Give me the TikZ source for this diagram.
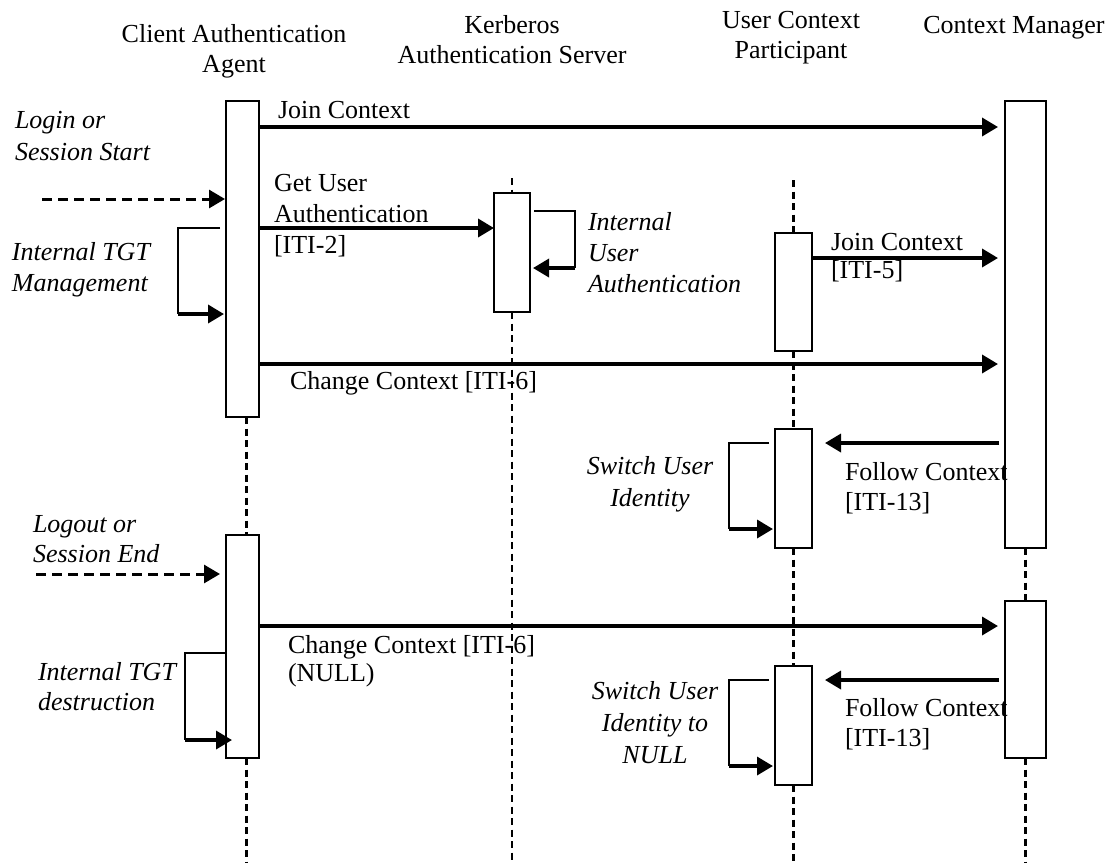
\documentclass[tikz,border=0pt]{standalone}
\usepackage{fontspec}
\setmainfont{Liberation Serif}
\usetikzlibrary{arrows.meta}
\begin{document}
\begin{tikzpicture}[x=1pt,y=-1pt,
  every node/.style={font=\fontsize{26}{30}\selectfont, inner sep=0pt, outer sep=0pt},
  actbox/.style={draw, fill=white, line width=1.8pt, anchor=north west},
  life/.style={line width=2.2pt, dash pattern=on 7pt off 4.5pt},
  msg/.style={line width=3.5pt, -{Triangle[length=16pt,width=18pt]}},
  trig/.style={line width=3pt, dash pattern=on 10pt off 6pt, -{Triangle[length=16pt,width=18pt]}},
  loopline/.style={line width=1.6pt},
  lbl/.style={anchor=base west, align=left},
  ilbl/.style={anchor=base west, align=left, font=\fontsize{26}{30}\selectfont\itshape},
  clbl/.style={anchor=base, align=center, font=\fontsize{26}{32}\selectfont\itshape},
  ttl/.style={anchor=base, align=center}
]
\useasboundingbox (0,0) rectangle (1113,863);

% titles (anchored at the baseline of their last line)
\node[ttl] (tcaa) at (234,72) {Client Authentication\\Agent};
\node[ttl] (tkas) at (512,63) {Kerberos\\Authentication Server};
\node[ttl] (tucp) at (791,58) {User Context\\Participant};
\node[ttl] (tcm) at (1014,33) {Context Manager};

% activation boxes
\path
  node[actbox, minimum width=33pt, minimum height=316pt] (caa1) at (226,101) {}
  node[actbox, minimum width=33pt, minimum height=223pt] (caa2) at (226,535) {}
  node[actbox, minimum width=36pt, minimum height=119pt] (kas1) at (494,193) {}
  node[actbox, minimum width=37pt, minimum height=118pt] (ucp1) at (775,233) {}
  node[actbox, minimum width=37pt, minimum height=119pt] (ucp2) at (775,429) {}
  node[actbox, minimum width=37pt, minimum height=119pt] (ucp3) at (775,666) {}
  node[actbox, minimum width=41pt, minimum height=447pt] (cm1) at (1005,101) {}
  node[actbox, minimum width=41pt, minimum height=157pt] (cm2) at (1005,601) {};

% lifelines
\draw[life] ([xshift=4pt]caa1.south) -- ([xshift=4pt]caa2.north);
\draw[life] ([xshift=4pt]caa2.south) -- ([xshift=4pt]caa2.south |- 0,863);
\draw[life] (kas1.north |- 0,178) -- (kas1.north);
\draw[life] (kas1.south) -- (kas1.south |- 0,863);
\draw[life] (ucp1.north |- 0,180) -- (ucp1.north);
\draw[life] (ucp1.south) -- (ucp2.north);
\draw[life] (ucp2.south) -- (ucp3.north);
\draw[life] (ucp3.south) -- (ucp3.south |- 0,863);
\draw[life] (cm1.south) -- (cm2.north);
\draw[life] (cm2.south) -- (cm2.south |- 0,863);

% messages
\draw[msg, shorten >=7pt] (caa1.east |- 0,127) -- (cm1.west |- 0,127);
\node[lbl] (l1) at (278,118) {Join Context};

\draw[msg] (caa1.east |- 0,228) -- (kas1.west |- 0,228);
\node[lbl, font=\fontsize{26}{31}\selectfont] (l2) at (274,253) {Get User\\Authentication\\{}[ITI-2]};

\draw[msg, shorten >=7pt] (ucp1.east |- 0,258) -- (cm1.west |- 0,258);
\node[lbl, font=\fontsize{26}{28}\selectfont] (l3) at (831,278) {Join Context\\{}[ITI-5]};

\draw[msg, shorten >=7pt] (caa1.east |- 0,364) -- (cm1.west |- 0,364);
\node[lbl] (l4) at (290,389) {Change Context [ITI-6]};

\draw[msg, shorten >=13pt, shorten <=6pt] (cm1.west |- 0,443) -- (ucp2.east |- 0,443);
\node[lbl, font=\fontsize{26}{30}\selectfont] (l5) at (845,510) {Follow Context\\{}[ITI-13]};

\draw[msg, shorten >=7pt] (caa2.east |- 0,626) -- (cm2.west |- 0,626);
\node[lbl, font=\fontsize{26}{28}\selectfont] (l6) at (288,681) {Change Context [ITI-6]\\(NULL)};

\draw[msg, shorten >=13pt, shorten <=6pt] (cm2.west |- 0,680) -- (ucp3.east |- 0,680);
\node[lbl, font=\fontsize{26}{30}\selectfont] (l7) at (845,746) {Follow Context\\{}[ITI-13]};

% external triggers
\coordinate (lgn) at (42,199);
\draw[trig, shorten >=1pt] (lgn) -- (caa1.west |- lgn);
\node[ilbl, font=\fontsize{26}{32}\selectfont\itshape] (t1) at (15,160) {Login or\\Session Start};

\coordinate (lgo) at (36,574);
\draw[trig, shorten >=6pt] (lgo) -- (caa2.west |- lgo);
\node[ilbl] (t2) at (33,562) {Logout or\\Session End};

% self loops
\draw[loopline] (220,228) -- (178,228) -- (178,314);
\draw[msg] (178,314) -- (224,314);
\node[ilbl, font=\fontsize{26}{31}\selectfont\itshape] (s1) at (12,291) {Internal TGT\\Management};

\draw[loopline] (534,211) -- (575,211) -- (575,268);
\draw[msg] (575,268) -- (533,268);
\node[ilbl, font=\fontsize{26}{31}\selectfont\itshape] (s2) at (588,292) {Internal\\User\\Authentication};

\draw[loopline] (227,653) -- (185,653) -- (185,740);
\draw[msg] (185,740) -- (232,740);
\node[ilbl] (s3) at (38,710) {Internal TGT\\destruction};

\draw[loopline] (769,443) -- (729,443) -- (729,529);
\draw[msg] (729,529) -- (773,529);
\node[clbl] (s4) at (650,506) {Switch User\\Identity};

\draw[loopline] (769,680) -- (729,680) -- (729,766);
\draw[msg] (729,766) -- (773,766);
\node[clbl] (s5) at (655,763) {Switch User\\Identity to\\NULL};

\end{tikzpicture}
\end{document}
